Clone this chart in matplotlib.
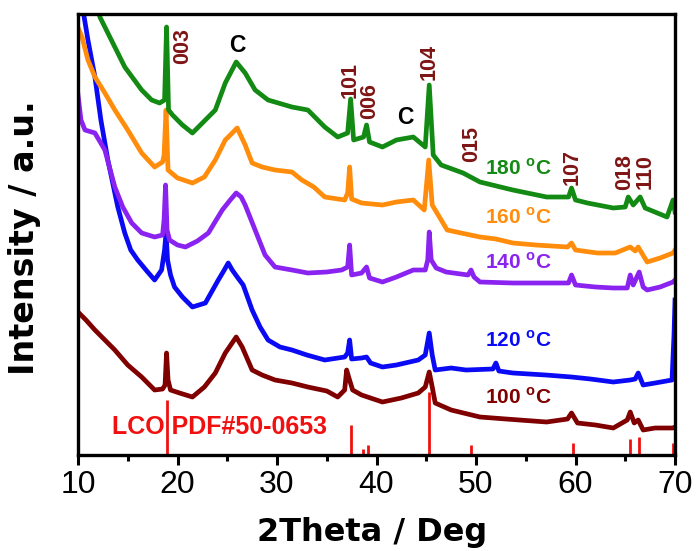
import matplotlib
matplotlib.use("Agg")
import matplotlib.pyplot as plt
from matplotlib.ticker import MultipleLocator
from matplotlib import font_manager

plt.rcParams['mathtext.fontset'] = 'custom'
plt.rcParams['mathtext.rm'] = 'Liberation Sans'
plt.rcParams['mathtext.bf'] = 'Liberation Sans:bold'

# XRD patterns (2-theta in degrees, stacked intensity in a.u.)
tt_180 = [11.8, 12.2, 13.0, 14.7, 16.4, 17.4, 18.2, 18.7, 18.9, 19.1,
          19.5, 20.5, 21.5, 22.5, 23.8, 24.8, 25.9, 26.8, 27.8, 29.1,
          31.5, 33.1, 34.8, 36.1, 37.1, 37.4, 37.7, 38.7, 39.0, 39.3,
          40.6, 42.0, 43.7, 44.9, 45.3, 45.7, 46.5, 48.7, 50.4, 53.7,
          57.1, 59.3, 59.6, 60.0, 61.2, 63.8, 65.0, 65.3, 65.8, 66.5,
          67.0, 69.2, 69.8, 70.0]
i_180 = [455, 438, 422, 388, 365, 355, 352, 355, 428, 345,
         340, 330, 322, 332, 345, 372, 393, 382, 365, 355,
         348, 345, 328, 318, 322, 356, 315, 318, 330, 313,
         308, 315, 318, 308, 370, 300, 290, 282, 273, 265,
         258, 258, 267, 255, 252, 247, 248, 258, 250, 258,
         247, 238, 255, 243]

tt_160 = [10.1, 10.4, 11.0, 11.7, 12.7, 13.7, 15.0, 16.4, 17.7, 18.5,
          18.65, 18.85, 19.05, 19.4, 20.0, 21.5, 22.7, 23.8, 24.8, 26.0,
          26.8, 27.5, 28.5, 29.8, 31.5, 32.5, 33.7, 34.8, 36.8, 37.1,
          37.3, 37.5, 38.5, 40.6, 42.0, 43.7, 44.8, 45.25, 45.6, 46.2,
          47.1, 48.5, 50.4, 52.0, 53.7, 56.0, 59.2, 59.6, 60.0, 62.2,
          64.0, 65.5, 66.0, 66.3, 67.2, 68.5, 69.8, 70.0]
i_160 = [425, 418, 395, 378, 362, 345, 325, 302, 288, 293,
         300, 345, 285, 282, 277, 272, 278, 295, 315, 327,
         310, 292, 288, 285, 283, 275, 268, 258, 255, 262,
         288, 256, 252, 250, 253, 255, 245, 295, 250, 240,
         225, 222, 218, 216, 212, 210, 208, 212, 205, 202,
         202, 208, 204, 208, 193, 197, 202, 205]

tt_140 = [10.0, 10.3, 10.7, 11.7, 12.7, 13.7, 14.5, 15.4, 16.4, 17.7,
          18.5, 18.65, 18.8, 18.95, 19.2, 20.0, 20.8, 22.0, 23.1, 24.5,
          25.3, 25.9, 26.4, 26.8, 27.8, 28.8, 29.8, 31.5, 33.1, 35.0,
          36.5, 37.1, 37.3, 37.5, 38.5, 39.0, 39.3, 40.6, 42.0, 43.7,
          44.9, 45.15, 45.3, 45.5, 46.0, 47.0, 49.2, 49.5, 49.8, 50.4,
          53.7, 57.0, 59.3, 59.6, 60.0, 62.0, 63.8, 65.2, 65.5, 65.8,
          66.4, 66.8, 67.2, 68.5, 69.8, 70.0]
i_140 = [360, 335, 325, 322, 305, 268, 248, 232, 222, 218,
         220, 235, 270, 225, 215, 210, 208, 214, 222, 245,
         255, 262, 258, 250, 225, 200, 188, 185, 182, 183,
         185, 188, 210, 180, 182, 188, 177, 173, 178, 185,
         185, 195, 223, 195, 187, 183, 180, 185, 178, 173,
         172, 172, 172, 180, 170, 168, 167, 167, 180, 170,
         183, 168, 165, 168, 173, 175]

tt_120 = [10.5, 11.0, 11.7, 12.3, 13.0, 14.0, 14.7, 15.3, 16.0, 17.0,
          17.7, 18.4, 18.7, 18.85, 19.0, 19.3, 19.7, 20.5, 21.5, 22.8,
          24.1, 24.7, 25.1, 25.5, 26.0, 26.6, 27.5, 28.3, 29.1, 30.3,
          31.5, 33.0, 34.8, 36.8, 37.1, 37.3, 37.5, 38.5, 39.0, 39.4,
          40.6, 42.0, 44.2, 44.9, 45.3, 45.6, 45.9, 47.5, 49.0, 51.7,
          52.0, 52.3, 53.7, 57.0, 59.6, 61.5, 63.8, 65.5, 66.0, 66.3,
          66.8, 68.0, 69.7, 69.9, 70.0]
i_120 = [445, 415, 378, 335, 295, 248, 222, 205, 195, 183,
         175, 185, 205, 222, 195, 180, 168, 158, 148, 152,
         175, 185, 192, 185, 178, 170, 145, 128, 115, 108,
         105, 100, 95, 98, 102, 115, 96, 97, 98, 92,
         88, 90, 95, 100, 122, 100, 85, 87, 85, 86,
         92, 84, 82, 80, 78, 76, 73, 75, 76, 82,
         70, 72, 75, 120, 155]

tt_100 = [10.0, 10.8, 11.7, 12.7, 13.7, 15.0, 16.4, 17.7, 18.5, 18.75,
          18.9, 19.05, 19.3, 20.2, 21.5, 22.7, 23.8, 24.8, 25.9, 26.5,
          27.5, 28.5, 29.8, 31.5, 33.1, 35.0, 36.1, 36.8, 37.0, 37.2,
          37.6, 38.5, 40.6, 42.5, 44.2, 44.9, 45.3, 45.6, 45.9, 47.5,
          50.4, 53.0, 57.1, 59.2, 59.6, 60.2, 62.0, 63.8, 65.2, 65.5,
          65.9, 66.3, 66.8, 68.0, 69.8, 70.0]
i_100 = [143, 135, 125, 115, 105, 90, 78, 65, 66, 70,
         102, 75, 65, 62, 58, 68, 82, 102, 118, 108,
         85, 80, 75, 72, 68, 64, 58, 65, 85, 78,
         65, 60, 53, 57, 62, 68, 83, 68, 52, 45,
         38, 36, 33, 36, 42, 32, 30, 27, 35, 43,
         32, 35, 25, 27, 27, 28]

# LiCoO2 reference pattern (PDF#50-0653)
pdf_tt = [18.9, 37.4, 38.6, 39.1, 45.3, 49.5, 59.7, 65.5, 66.4, 69.8]
pdf_i = [55, 30, 6, 10, 63, 10, 12, 16, 18, 12]

series = [
    (tt_100, i_100, '#800000', '100', 58),
    (tt_120, i_120, '#0a0af5', '120', 115),
    (tt_140, i_140, '#8a22f0', '140', 193),
    (tt_160, i_160, '#ff8c0a', '160', 238),
    (tt_180, i_180, '#138a13', '180', 287),
]

# Miller indices of the LiCoO2 reflections and carbon peaks
hkl_labels = ['003', '101', '006', '104', '015', '107', '018', '110']
hkl_pos = [(20.55, 409), (37.3, 375), (39.35, 354), (45.3, 393),
           (49.55, 311), (59.65, 288), (64.9, 283), (67.0, 283)]
carbon_pos = [(26.0, 410), (42.9, 338)]

# narrow face for the tick numbers when one is available
_names = {f.name for f in font_manager.fontManager.ttflist}
tick_family = [n for n in ['Liberation Sans Narrow', 'DejaVu Sans Condensed',
                           'Liberation Sans'] if n in _names] or ['DejaVu Sans']

fig = plt.figure(figsize=(6.97, 5.51), dpi=100)
ax = fig.add_axes([78 / 697, 96 / 551, 597 / 697, 441 / 551])

ax.vlines(pdf_tt, 0, pdf_i, color='#f01010', lw=2.0, zorder=1)
for tt, inten, col, temp, ly in series:
    ax.plot(tt, inten, color=col, lw=3.4, solid_joinstyle='round', zorder=2)
    ax.text(54.3, ly, temp + r' $^{\mathbf{o}}$C', color=col, fontsize=15,
            fontweight='bold', family='Liberation Sans', ha='center', va='center')

for lab, (x, y) in zip(hkl_labels, hkl_pos):
    ax.text(x, y, lab, rotation=90, color='#7f1515', fontsize=15.5,
            fontweight='bold', family='Liberation Sans', ha='center', va='center')
for x, y in carbon_pos:
    ax.text(x, y, 'C', color='black', fontsize=16.5, fontweight='bold',
            family='Liberation Sans', ha='center', va='center')

ax.text(24.2, 28, 'LCO PDF#50-0653', color='#f01010', fontsize=18,
        fontweight='bold', family='Liberation Sans', ha='center', va='center')

ax.set_xlim(10, 70)
ax.set_ylim(0, 441)
ax.set_yticks([])
ax.xaxis.set_major_locator(MultipleLocator(10))
ax.xaxis.set_minor_locator(MultipleLocator(5))
ax.tick_params(axis='x', which='major', direction='out', length=7, width=2.2, pad=4)
ax.tick_params(axis='x', which='minor', direction='out', length=4.5, width=2.2)
for lab in ax.get_xticklabels():
    lab.set_family(tick_family)
    lab.set_fontsize(23)
for sp in ax.spines.values():
    sp.set_linewidth(2.4)

ax.set_xlabel('2Theta / Deg', fontsize=23, fontweight='bold', family='DejaVu Sans')
ax.set_ylabel('Intensity / a.u.', fontsize=24, fontweight='bold', family='DejaVu Sans')
ax.xaxis.set_label_coords(0.492, -0.141)
ax.yaxis.set_label_coords(-0.062, 0.492)

fig.savefig('out.png', dpi=100)
